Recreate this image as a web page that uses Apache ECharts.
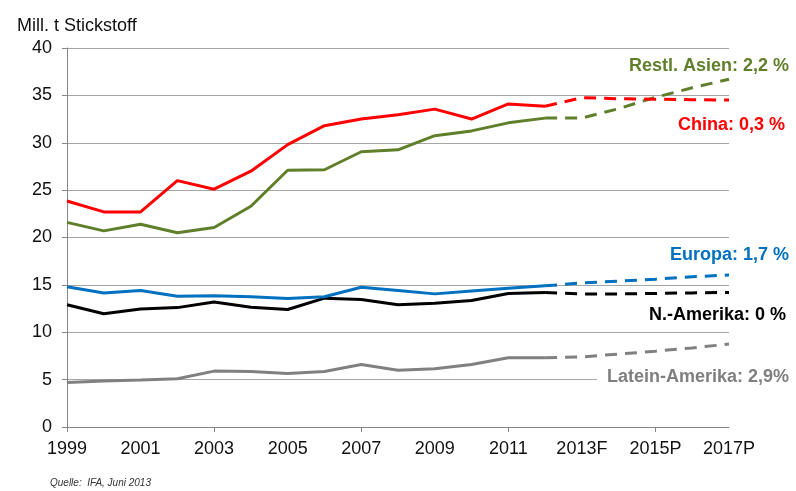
<!DOCTYPE html>
<html>
<head>
<meta charset="utf-8">
<script src="https://cdn.jsdelivr.net/npm/echarts@6/dist/echarts.min.js"></script>
<style>
  html,body{margin:0;padding:0;background:#fff;}
  #chart{width:796px;height:491px;}
</style>
</head>
<body>
<div id="chart"></div>
<script>
// Kategorien (Jahre)
var years = ['1999','2000','2001','2002','2003','2004','2005','2006','2007','2008','2009','2010','2011','2012','2013F','2014','2015P','2016','2017P'];

// Ist-Werte 1999-2012
var chinaHist  = [23.85,22.7,22.7,26.0,25.1,27.0,29.8,31.8,32.5,32.95,33.55,32.5,34.1,33.85];
var asienHist  = [21.6,20.7,21.4,20.5,21.05,23.3,27.1,27.15,29.05,29.25,30.75,31.25,32.1,32.6];
var europaHist = [14.8,14.15,14.4,13.8,13.85,13.75,13.55,13.75,14.75,14.4,14.05,14.35,14.65,14.9];
var namerHist  = [12.9,11.95,12.45,12.6,13.2,12.65,12.4,13.6,13.45,12.9,13.05,13.35,14.1,14.2];
var lateinHist = [4.7,4.85,4.95,5.1,5.9,5.85,5.65,5.85,6.6,6.0,6.15,6.6,7.3,7.3];

// Prognose 2012-2017P
var chinaProj  = [33.85,34.75,34.65,34.6,34.55,34.5];
var asienProj  = [32.6,32.6,33.6,34.8,35.8,36.7];
var europaProj = [14.9,15.2,15.4,15.6,15.85,16.05];
var namerProj  = [14.2,14.05,14.05,14.1,14.15,14.2];
var lateinProj = [7.3,7.4,7.7,8.0,8.35,8.75];

var yTicks = [0,5,10,15,20,25,30,35,40];

function solid(arr){
  var d = arr.slice();
  while(d.length < years.length) d.push(null);
  return d;
}
function dashed(arr){
  var d = [];
  while(d.length < years.length - arr.length) d.push(null);
  return d.concat(arr);
}
function line(data, color, isDashed){
  return {
    type:'line', data:data, symbol:'none', smooth:false, connectNulls:false, z:3,
    lineStyle:{color:color, width:3, type: isDashed ? [12,8] : 'solid'}
  };
}

var cRed = '#ff0000', cGreen = '#5f7f2a', cBlue = '#0070c0', cBlack = '#000000', cGray = '#808080';

var font = '"Liberation Sans", Arial, sans-serif';

function lbl(text, color, x, y, pad){
  return {
    type:'text', x:x, y:y, z:1,
    style:{text:text, fill:color, font:'bold 18px ' + font, textAlign:'right', textVerticalAlign:'middle',
      backgroundColor:'#fff', padding:pad}
  };
}

var myChart = echarts.init(document.getElementById('chart'));
var option = {
  backgroundColor:'#fff',
  animation:false,
  textStyle:{fontFamily:font},
  title:{text:'Mill. t Stickstoff', left:12, top:12, textStyle:{fontFamily:font, fontSize:18, fontWeight:'normal', color:'#111'}},
  grid:{left:67, right:67, top:48, bottom:64},
  xAxis:{
    type:'category', data:years, boundaryGap:false,
    axisLine:{lineStyle:{color:'#868686', width:1}},
    axisTick:{interval:3, length:5, lineStyle:{color:'#868686'}},
    axisLabel:{interval:1, color:'#111', fontSize:18, margin:13, fontFamily:font},
    splitLine:{show:false}
  },
  yAxis:{
    type:'value', min:yTicks[0], max:yTicks[yTicks.length-1], interval:5,
    axisLine:{show:true, lineStyle:{color:'#868686', width:1}},
    axisTick:{show:true, length:5, lineStyle:{color:'#868686'}},
    axisLabel:{color:'#111', fontSize:18, margin:15, fontFamily:font},
    splitLine:{lineStyle:{color:'#a6a6a6', width:1}}
  },
  graphic:[
    lbl('Restl. Asien: 2,2 %', cGreen, 793, 66, [12,4,4,10]),
    lbl('China: 0,3 %', cRed, 789, 125, [3,4,3,6]),
    lbl('Europa: 1,7 %', cBlue, 793, 255, [3,4,3,6]),
    lbl('N.-Amerika: 0 %', cBlack, 790, 315, [3,4,3,6]),
    lbl('Latein-Amerika: 2,9%', '#7f7f7f', 793, 377, [4,4,4,10]),
    {type:'text', x:50, y:483, z:1, style:{text:'Quelle:  IFA, Juni 2013', fill:'#333', font:'italic 10px ' + font, textVerticalAlign:'middle'}}
  ],
  series:[
    line(solid(lateinHist), cGray, false),  line(dashed(lateinProj), cGray, true),
    line(solid(namerHist), cBlack, false),  line(dashed(namerProj), cBlack, true),
    line(solid(europaHist), cBlue, false),  line(dashed(europaProj), cBlue, true),
    line(solid(asienHist), cGreen, false),  line(dashed(asienProj), cGreen, true),
    line(solid(chinaHist), cRed, false),    line(dashed(chinaProj), cRed, true)
  ]
};
myChart.setOption(option);
</script>
</body>
</html>
